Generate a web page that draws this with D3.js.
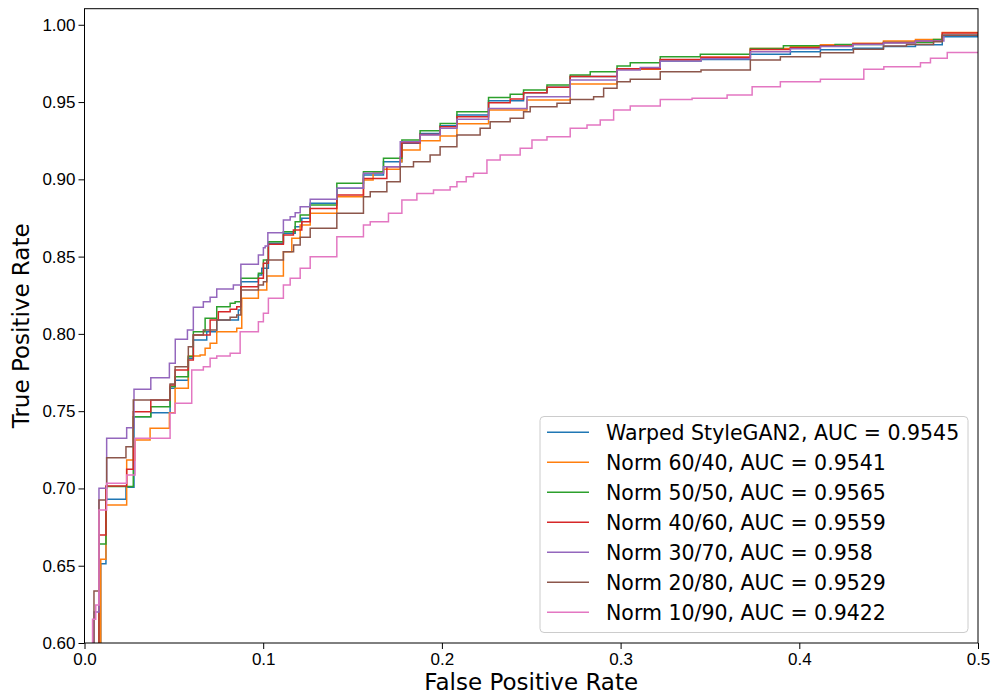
<!DOCTYPE html>
<meta charset="utf-8">
<style>
body { margin: 0; background: #fff; }
svg { font-family: "DejaVu Sans", sans-serif; }
.axis line { stroke: #000; }
.axis text { font-size: 17px; fill: #000; }
.label { font-size: 23px; fill: #000; }
.legend text { font-size: 20.5px; fill: #000; }
.curve { fill: none; stroke-width: 1.5; }
</style>

<div id="roc"></div>
<script src="https://d3js.org/d3.v7.min.js"></script>
<script>
// ROC curves, zoomed into FPR 0..0.5 / TPR 0.6..1
var labels = [
  "Warped StyleGAN2, AUC = 0.9545",
  "Norm 60/40, AUC = 0.9541",
  "Norm 50/50, AUC = 0.9565",
  "Norm 40/60, AUC = 0.9559",
  "Norm 30/70, AUC = 0.958",
  "Norm 20/80, AUC = 0.9529",
  "Norm 10/90, AUC = 0.9422"
];

var xTicks = [0, 0.1, 0.2, 0.3, 0.4, 0.5];
var yTicks = [0.60, 0.65, 0.70, 0.75, 0.80, 0.85, 0.90, 0.95, 1.00];

// [fpr, tpr] : tpr jumps to this value at this fpr
var warped = [
  [0, 0.5], [0.0091, 0.6512], [0.0120, 0.6930], [0.0232, 0.7008], [0.0277, 0.7464],
  [0.0371, 0.7490], [0.0479, 0.7648], [0.0507, 0.7700], [0.0581, 0.7842], [0.0609, 0.7961],
  [0.0684, 0.8014], [0.0740, 0.8090], [0.0861, 0.8155], [0.0875, 0.8338], [0.0973, 0.8381],
  [0.0992, 0.8424], [0.1029, 0.8586], [0.1113, 0.8651], [0.1179, 0.8693], [0.1216, 0.8748],
  [0.1263, 0.8845], [0.1412, 0.8942], [0.1561, 0.9028], [0.1673, 0.9114], [0.1776, 0.9233],
  [0.1878, 0.9297], [0.1990, 0.9346], [0.2084, 0.9416], [0.2261, 0.9508], [0.2457, 0.9560],
  [0.2588, 0.9595], [0.2718, 0.9665], [0.2980, 0.9712], [0.3222, 0.9765], [0.3450, 0.9775],
  [0.3726, 0.9810], [0.3950, 0.9825], [0.4118, 0.9838], [0.4300, 0.9848], [0.4471, 0.9860],
  [0.4650, 0.9870], [0.4800, 0.9922], [0.5, 0.9925]
];

var norm6040 = [
  [0, 0.5], [0.0091, 0.6542], [0.0120, 0.6893], [0.0236, 0.7184], [0.0283, 0.7314],
  [0.0367, 0.7389], [0.0475, 0.7490], [0.0507, 0.7648], [0.0581, 0.7857], [0.0647, 0.7864],
  [0.0675, 0.7907], [0.0703, 0.7939], [0.0740, 0.8014], [0.0852, 0.8036], [0.0880, 0.8230],
  [0.0973, 0.8284], [0.1020, 0.8375], [0.1113, 0.8532], [0.1160, 0.8618], [0.1207, 0.8704],
  [0.1263, 0.8780], [0.1412, 0.8887], [0.1561, 0.8995], [0.1615, 0.9041], [0.1673, 0.9065],
  [0.1767, 0.9114], [0.1776, 0.9190], [0.1878, 0.9250], [0.1990, 0.9281], [0.2084, 0.9360],
  [0.2261, 0.9448], [0.2476, 0.9513], [0.2718, 0.9616], [0.2980, 0.9712], [0.3222, 0.9772],
  [0.3450, 0.9790], [0.3726, 0.9847], [0.3950, 0.9858], [0.4118, 0.9870], [0.4300, 0.9880],
  [0.4471, 0.9895], [0.4650, 0.9905], [0.4800, 0.9950], [0.5, 0.9955]
];

var norm5050 = [
  [0, 0.5], [0.0081, 0.6641], [0.0120, 0.7012], [0.0273, 0.7464], [0.0371, 0.7529],
  [0.0479, 0.7659], [0.0507, 0.7723], [0.0581, 0.7853], [0.0609, 0.8014], [0.0675, 0.8101],
  [0.0740, 0.8176], [0.0815, 0.8198], [0.0843, 0.8208], [0.0875, 0.8360], [0.0973, 0.8392],
  [0.1001, 0.8478], [0.1029, 0.8596], [0.1113, 0.8661], [0.1179, 0.8726], [0.1207, 0.8769],
  [0.1263, 0.8834], [0.1412, 0.8974], [0.1561, 0.9049], [0.1673, 0.9136], [0.1776, 0.9254],
  [0.1878, 0.9314], [0.1990, 0.9362], [0.2084, 0.9437], [0.2261, 0.9530], [0.2382, 0.9550],
  [0.2457, 0.9578], [0.2588, 0.9610], [0.2718, 0.9675], [0.2830, 0.9696], [0.2980, 0.9733],
  [0.3054, 0.9754], [0.3222, 0.9793], [0.3446, 0.9809], [0.3726, 0.9847], [0.3911, 0.9865],
  [0.4200, 0.9872], [0.4471, 0.9885], [0.4751, 0.9905], [0.4800, 0.9933], [0.5, 0.9940]
];

var norm4060 = [
  [0, 0.5], [0.0081, 0.6699], [0.0120, 0.7016], [0.0236, 0.7124], [0.0273, 0.7497],
  [0.0371, 0.7572], [0.0479, 0.7670], [0.0507, 0.7767], [0.0581, 0.7831], [0.0609, 0.7993],
  [0.0703, 0.8090], [0.0749, 0.8144], [0.0815, 0.8159], [0.0852, 0.8176], [0.0875, 0.8305],
  [0.0973, 0.8360], [0.1001, 0.8457], [0.1029, 0.8580], [0.1113, 0.8640], [0.1169, 0.8672],
  [0.1216, 0.8726], [0.1263, 0.8812], [0.1412, 0.8898], [0.1561, 0.9006], [0.1692, 0.9082],
  [0.1767, 0.9146], [0.1776, 0.9237], [0.1878, 0.9290], [0.1990, 0.9340], [0.2084, 0.9405],
  [0.2261, 0.9495], [0.2382, 0.9520], [0.2457, 0.9560], [0.2588, 0.9595], [0.2718, 0.9665],
  [0.2980, 0.9715], [0.3222, 0.9775], [0.3450, 0.9790], [0.3726, 0.9840], [0.3950, 0.9852],
  [0.4118, 0.9862], [0.4300, 0.9875], [0.4471, 0.9885], [0.4650, 0.9895], [0.4800, 0.9946],
  [0.5, 0.9950]
];

var norm3070 = [
  [0, 0.5], [0.0053, 0.6200], [0.0081, 0.7001], [0.0124, 0.7325], [0.0236, 0.7393],
  [0.0277, 0.7642], [0.0371, 0.7717], [0.0475, 0.7810], [0.0508, 0.7965], [0.0576, 0.8025],
  [0.0609, 0.8172], [0.0665, 0.8208], [0.0703, 0.8237], [0.0740, 0.8290], [0.0833, 0.8316],
  [0.0875, 0.8450], [0.0973, 0.8510], [0.1001, 0.8558], [0.1011, 0.8569], [0.1026, 0.8655],
  [0.1113, 0.8737], [0.1151, 0.8758], [0.1179, 0.8784], [0.1207, 0.8823], [0.1263, 0.8871],
  [0.1412, 0.8942], [0.1561, 0.9039], [0.1673, 0.9082], [0.1767, 0.9243], [0.1878, 0.9287],
  [0.1990, 0.9330], [0.2084, 0.9388], [0.2261, 0.9459], [0.2476, 0.9534], [0.2718, 0.9642],
  [0.2980, 0.9707], [0.3110, 0.9724], [0.3222, 0.9765], [0.3450, 0.9780], [0.3726, 0.9825],
  [0.3950, 0.9845], [0.4118, 0.9860], [0.4300, 0.9872], [0.4471, 0.9882], [0.4650, 0.9895],
  [0.4809, 0.9933], [0.5, 0.9935]
];

var norm2080 = [
  [0, 0.5], [0.0053, 0.6337], [0.0081, 0.6926], [0.0124, 0.7199], [0.0232, 0.7270],
  [0.0273, 0.7572], [0.0479, 0.7676], [0.0507, 0.7788], [0.0581, 0.7917], [0.0609, 0.7993],
  [0.0665, 0.8025], [0.0740, 0.8090], [0.0815, 0.8107], [0.0852, 0.8122], [0.0875, 0.8284],
  [0.0973, 0.8316], [0.1001, 0.8338], [0.1020, 0.8478], [0.1113, 0.8532], [0.1170, 0.8575],
  [0.1207, 0.8625], [0.1263, 0.8683], [0.1412, 0.8780], [0.1561, 0.8887], [0.1599, 0.8920],
  [0.1692, 0.8984], [0.1767, 0.9082], [0.1841, 0.9114], [0.1934, 0.9157], [0.1990, 0.9211],
  [0.2084, 0.9287], [0.2214, 0.9330], [0.2270, 0.9373], [0.2382, 0.9395], [0.2457, 0.9437],
  [0.2494, 0.9470], [0.2644, 0.9492], [0.2718, 0.9517], [0.2849, 0.9534], [0.2905, 0.9589],
  [0.2980, 0.9631], [0.3054, 0.9647], [0.3222, 0.9696], [0.3450, 0.9708], [0.3726, 0.9772],
  [0.3894, 0.9793], [0.4118, 0.9819], [0.4303, 0.9841], [0.4471, 0.9862], [0.4600, 0.9872],
  [0.4751, 0.9890], [0.4800, 0.9933], [0.5, 0.9933]
];

var norm1090 = [
  [0, 0.5], [0.0045, 0.6154], [0.0063, 0.6246], [0.0081, 0.6861], [0.0124, 0.7034],
  [0.0236, 0.7087], [0.0283, 0.7325], [0.0479, 0.7486], [0.0507, 0.7551], [0.0600, 0.7767],
  [0.0665, 0.7788], [0.0703, 0.7842], [0.0740, 0.7857], [0.0815, 0.7875], [0.0871, 0.8014],
  [0.0973, 0.8079], [0.1001, 0.8133], [0.1029, 0.8230], [0.1113, 0.8316], [0.1151, 0.8360],
  [0.1207, 0.8424], [0.1263, 0.8499], [0.1412, 0.8629], [0.1561, 0.8704], [0.1599, 0.8726],
  [0.1701, 0.8780], [0.1776, 0.8866], [0.1860, 0.8909], [0.1953, 0.8931], [0.2046, 0.8952],
  [0.2084, 0.8984], [0.2136, 0.9017], [0.2177, 0.9039], [0.2252, 0.9125], [0.2326, 0.9157],
  [0.2438, 0.9201], [0.2504, 0.9254], [0.2588, 0.9276], [0.2718, 0.9330], [0.2812, 0.9351],
  [0.2886, 0.9384], [0.2961, 0.9448], [0.3054, 0.9474], [0.3222, 0.9517], [0.3400, 0.9525],
  [0.3596, 0.9545], [0.3736, 0.9599], [0.3894, 0.9631], [0.4118, 0.9647], [0.4361, 0.9712],
  [0.4473, 0.9728], [0.4678, 0.9754], [0.4734, 0.9783], [0.4828, 0.9821], [0.5, 0.9821]
];

var series = [warped, norm6040, norm5050, norm4060, norm3070, norm2080, norm1090];
var colors = d3.schemeCategory10; // same as matplotlib tab10

var w = 994, h = 698,
  plotLeft = 84.5, plotRight = 978, plotTop = 8.7, plotBottom = 643;

var svg = d3.select("#roc").append("svg")
  .attr("width", w)
  .attr("height", h);

var x = d3.scaleLinear().domain([0, 0.5]).range([plotLeft, plotRight]),
    y = d3.scaleLinear().domain([0.6, 1.0104]).range([plotBottom, plotTop]);

svg.append("clipPath").attr("id", "plot-clip")
  .append("rect")
  .attr("x", plotLeft).attr("y", plotTop)
  .attr("width", plotRight - plotLeft).attr("height", plotBottom - plotTop);

var line = d3.line()
  .x(function (d) { return x(d[0]); })
  .y(function (d) { return y(d[1]); })
  .curve(d3.curveStepAfter);

svg.append("g")
  .attr("clip-path", "url(#plot-clip)")
  .selectAll("path")
  .data(series)
  .enter()
  .append("path")
  .attr("class", "curve")
  .attr("stroke", function (d, i) { return colors[i]; })
  .attr("d", line);

// axes
svg.append("g")
  .attr("class", "axis")
  .attr("transform", "translate(0," + plotBottom + ")")
  .call(d3.axisBottom(x).tickValues(xTicks).tickFormat(d3.format(".1f"))
    .tickSizeOuter(0).tickSize(6).tickPadding(4));

svg.append("g")
  .attr("class", "axis")
  .attr("transform", "translate(" + plotLeft + ",0)")
  .call(d3.axisLeft(y).tickValues(yTicks).tickFormat(d3.format(".2f"))
    .tickSizeOuter(0).tickSize(6).tickPadding(3));

svg.selectAll(".axis .domain").remove();

// frame
svg.append("rect")
  .attr("x", plotLeft).attr("y", plotTop)
  .attr("width", plotRight - plotLeft).attr("height", plotBottom - plotTop)
  .attr("fill", "none")
  .attr("stroke", "#000")
  .attr("stroke-width", 1);

svg.append("text")
  .attr("class", "label")
  .attr("x", (plotLeft + plotRight) / 2)
  .attr("y", 690)
  .attr("text-anchor", "middle")
  .text("False Positive Rate");

svg.append("text")
  .attr("class", "label")
  .attr("transform", "translate(29," + ((plotTop + plotBottom) / 2) + ") rotate(-90)")
  .attr("text-anchor", "middle")
  .text("True Positive Rate");

// legend
var legend = svg.append("g").attr("class", "legend");

legend.append("rect")
  .attr("x", 540).attr("y", 416.5)
  .attr("width", 428).attr("height", 216)
  .attr("rx", 4)
  .attr("fill", "#fff").attr("fill-opacity", 0.8)
  .attr("stroke", "#cccccc");

var rows = legend.selectAll("g.row")
  .data(labels)
  .enter()
  .append("g")
  .attr("class", "row")
  .attr("transform", function (d, i) { return "translate(0," + (432.3 + i * 30) + ")"; });

rows.append("line")
  .attr("x1", 547).attr("x2", 589)
  .attr("stroke", function (d, i) { return colors[i]; })
  .attr("stroke-width", 1.5);

rows.append("text")
  .attr("x", 606)
  .attr("dy", "0.36em")
  .text(function (d) { return d; });
</script>
